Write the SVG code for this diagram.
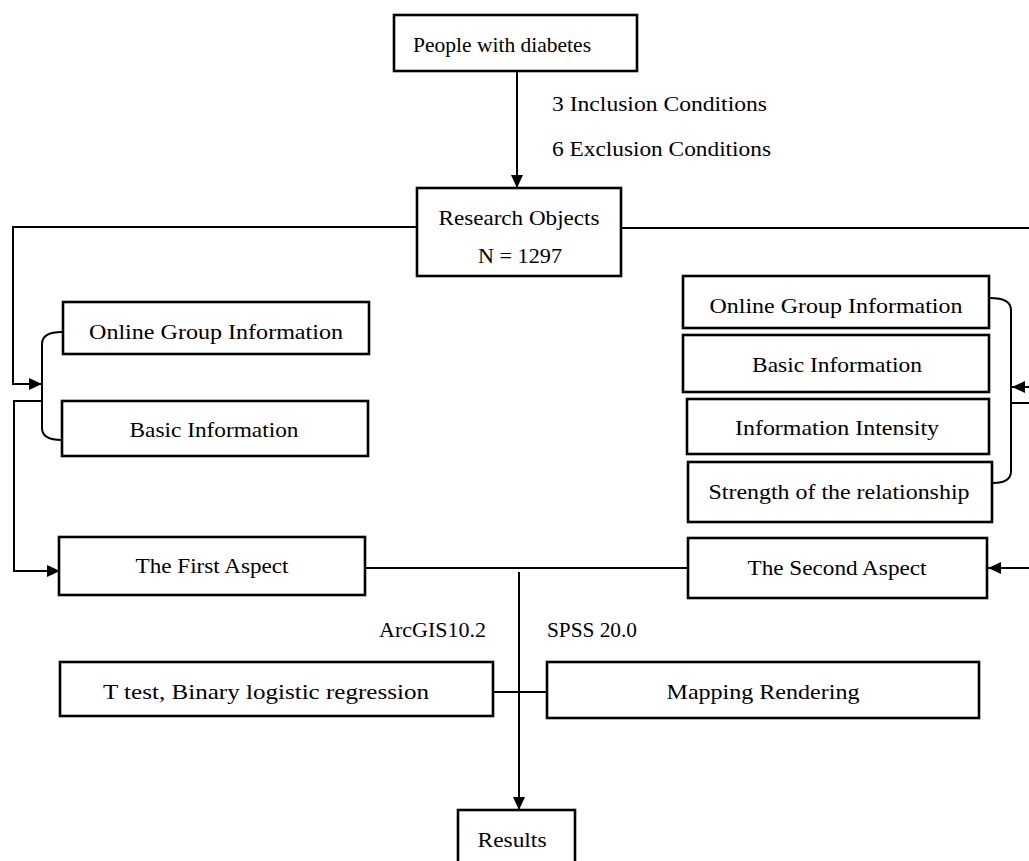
<svg xmlns="http://www.w3.org/2000/svg" width="1029" height="861" viewBox="0 0 1029 861">
<style>
.box{fill:#fff;stroke:#000;stroke-width:2.6}
.t{font-family:"Liberation Serif","DejaVu Serif",serif;font-size:21px;fill:#000}
.c{text-anchor:middle}
.ln{fill:none;stroke:#000;stroke-width:2}
.ar{marker-end:url(#ah)}
</style>
<defs>
<marker id="ah" markerUnits="userSpaceOnUse" markerWidth="13" markerHeight="12" refX="13" refY="6" orient="auto">
<path d="M0,0 L13,6 L0,12 z" fill="#000"/>
</marker>
</defs>
<rect width="1029" height="861" fill="#fff"/>
<g id="connectors">
<path class="ln ar" d="M517,71 V188"/>
<path class="ln ar" d="M417,227 H13 V384 H42"/>
<path class="ln" d="M62,332 Q42,332 42,344 V428 Q42,440 62,440"/>
<path class="ln ar" d="M42,401 H14 V571 H60"/>
<path class="ln ar" d="M621,228 H1032 V387 H1012"/>
<path class="ln" d="M990,298 Q1011,298 1011,310 V471 Q1011,483 993,483"/>
<path class="ln ar" d="M1011,403 H1032 V568 H988"/>
<path class="ln" d="M365,568 H688"/>
<path class="ln ar" d="M519,572 V810"/>
<path class="ln" d="M493,692 H547"/>
</g>
<g id="n-people">
<rect class="box" x="394" y="15" width="243" height="56"/>
<text class="t" x="413" y="52" textLength="178" lengthAdjust="spacingAndGlyphs">People with diabetes</text>
</g>
<g id="l-conditions">
<text class="t" x="552" y="111" textLength="215" lengthAdjust="spacingAndGlyphs">3 Inclusion Conditions</text>
<text class="t" x="552" y="156" textLength="219" lengthAdjust="spacingAndGlyphs">6 Exclusion Conditions</text>
</g>
<g id="n-research">
<rect class="box" x="417" y="188" width="204" height="88"/>
<text class="t c" x="519" y="225" textLength="161" lengthAdjust="spacingAndGlyphs">Research Objects</text>
<text class="t c" x="520" y="263" textLength="84" lengthAdjust="spacingAndGlyphs">N = 1297</text>
</g>
<g id="n-left-online">
<rect class="box" x="63" y="302" width="306" height="52"/>
<text class="t c" x="216" y="339" textLength="254" lengthAdjust="spacingAndGlyphs">Online Group Information</text>
</g>
<g id="n-left-basic">
<rect class="box" x="62" y="401" width="306" height="55"/>
<text class="t c" x="214" y="437" textLength="169" lengthAdjust="spacingAndGlyphs">Basic Information</text>
</g>
<g id="n-first">
<rect class="box" x="59" y="537" width="306" height="58"/>
<text class="t c" x="212" y="573" textLength="153" lengthAdjust="spacingAndGlyphs">The First Aspect</text>
</g>
<g id="n-right-online">
<rect class="box" x="683" y="276" width="306" height="52"/>
<text class="t c" x="836" y="313" textLength="253" lengthAdjust="spacingAndGlyphs">Online Group Information</text>
</g>
<g id="n-right-basic">
<rect class="box" x="683" y="335" width="306" height="57"/>
<text class="t c" x="837" y="372" textLength="170" lengthAdjust="spacingAndGlyphs">Basic Information</text>
</g>
<g id="n-intensity">
<rect class="box" x="687" y="399" width="302" height="55"/>
<text class="t c" x="837" y="435" textLength="204" lengthAdjust="spacingAndGlyphs">Information Intensity</text>
</g>
<g id="n-strength">
<rect class="box" x="688" y="462" width="304" height="60"/>
<text class="t c" x="839" y="499" textLength="261" lengthAdjust="spacingAndGlyphs">Strength of the relationship</text>
</g>
<g id="n-second">
<rect class="box" x="688" y="538" width="299" height="60"/>
<text class="t c" x="837" y="575" textLength="179" lengthAdjust="spacingAndGlyphs">The Second Aspect</text>
</g>
<g id="l-tools">
<text class="t" x="379" y="637" textLength="107" lengthAdjust="spacingAndGlyphs">ArcGIS10.2</text>
<text class="t" x="547" y="637" textLength="90" lengthAdjust="spacingAndGlyphs">SPSS 20.0</text>
</g>
<g id="n-ttest">
<rect class="box" x="60" y="662" width="433" height="54"/>
<text class="t c" x="266" y="699" textLength="326" lengthAdjust="spacingAndGlyphs">T test, Binary logistic regression</text>
</g>
<g id="n-mapping">
<rect class="box" x="547" y="662" width="432" height="56"/>
<text class="t c" x="763" y="699" textLength="193" lengthAdjust="spacingAndGlyphs">Mapping Rendering</text>
</g>
<g id="n-results">
<rect class="box" x="458" y="810" width="117" height="60"/>
<text class="t c" x="512" y="847" textLength="69" lengthAdjust="spacingAndGlyphs">Results</text>
</g>
</svg>
